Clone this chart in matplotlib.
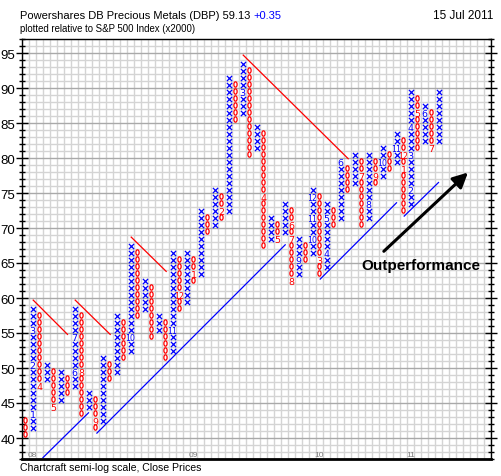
import matplotlib
matplotlib.use("Agg")
import matplotlib.pyplot as plt
from matplotlib.ticker import MultipleLocator
from matplotlib.path import Path
from matplotlib.transforms import Affine2D

# point & figure columns (box size 1), first column is O, then alternating
kinds = ["O", "X"] * 30
lows = [40, 41, 47, 48, 44, 45, 46, 47, 43, 44,
        41, 42, 48, 49, 51, 52, 57, 58, 54, 55,
        51, 52, 58, 59, 62, 63, 69, 70, 71, 72,
        85, 86, 80, 81, 67, 68, 68, 69, 62, 63,
        65, 66, 63, 64, 70, 71, 75, 76, 70, 71,
        76, 77, 78, 79, 72, 73, 81, 82, 81, 82]
highs = [42, 58, 57, 50, 49, 49, 48, 58, 57, 46,
         45, 51, 50, 57, 56, 67, 66, 62, 61, 57,
         56, 66, 65, 66, 65, 72, 71, 75, 74, 91,
         90, 93, 92, 84, 83, 71, 70, 73, 72, 68,
         67, 75, 74, 73, 72, 79, 78, 80, 79, 80,
         79, 81, 80, 83, 82, 89, 88, 87, 86, 89]

# month markers written in place of a box
month_col = [1, 1, 1, 2, 4, 7, 7, 8, 10, 15, 21, 22, 24, 28, 31, 34, 36, 38, 38, 38,
             39, 41, 41, 41, 42, 43, 43, 45, 48, 49, 50, 51, 53, 54, 54, 55, 55, 55,
             56, 57, 58]
month_val = [43, 50, 55, 47, 44, 49, 54, 49, 42, 54, 55, 60, 63, 72, 89, 74, 68, 70, 68, 62,
             65, 68, 71, 74, 65, 66, 71, 79, 77, 73, 77, 79, 81, 80, 78, 75, 80, 84,
             86, 86, 81]
month_txt = ["1", "2", "3", "4", "5", "6", "7", "8", "9", "10", "11", "12", "1", "2", "3",
             "4", "5", "6", "7", "8", "9", "10", "11", "12", "3", "4", "5", "6", "7", "8",
             "9", "10", "11", "12", "1", "2", "3", "4", "5", "6", "7"]

year_col = [1, 24, 42, 55]
year_txt = ["08", "09", "10", "11"]

# trend lines: (col0, val0, col1, val1)
red_lines = [(1.6, 59.7, 6.5, 54.8), (7.6, 59.7, 12.6, 54.8),
             (15.6, 68.7, 20.6, 63.8), (31.6, 94.7, 46.6, 79.9)]
blue_lines = [(3.0, 37.2, 9.5, 43.6), (10.7, 40.7, 37.6, 67.6),
              (42.6, 62.7, 53.5, 73.6), (54.6, 71.7, 59.5, 76.5)]

plt.rcParams["font.family"] = ["Liberation Sans", "DejaVu Sans"]

fig = plt.figure(figsize=(5.01, 4.77), dpi=100)
ax = fig.add_axes([22 / 501, 17 / 477, 469 / 501, 420 / 477])
ax.set_xlim(0, 67)
ax.set_ylim(37, 97)

ax.yaxis.set_major_locator(MultipleLocator(5))
ax.yaxis.set_minor_locator(MultipleLocator(1))
ax.xaxis.set_major_locator(MultipleLocator(1))
ax.set_xticklabels([])
ax.grid(which="minor", axis="y", color="#d4d4d4", linewidth=1)
ax.grid(which="major", axis="y", color="#a9a9a9", linewidth=1)
ax.grid(which="major", axis="x", color="#d4d4d4", linewidth=1)
ax.set_axisbelow(True)
ax.tick_params(axis="x", length=0)
ax.tick_params(axis="y", which="major", direction="inout", length=8, width=1,
               labelsize=9.5, pad=1, left=True, right=True)
ax.tick_params(axis="y", which="minor", direction="inout", length=5, width=1,
               left=True, right=True)
for s in ["left", "right", "top"]:
    ax.spines[s].set_linewidth(1)
ax.spines["bottom"].set_linewidth(2)

# split boxes into plain X, plain O and month-labelled boxes
months = {(c, v): t for c, v, t in zip(month_col, month_val, month_txt)}
xs_x, ys_x, xs_o, ys_o = [], [], [], []
for k in range(len(kinds)):
    for v in range(lows[k], highs[k] + 1):
        if (k, v) in months:
            continue
        if kinds[k] == "X":
            xs_x.append(k + 0.5)
            ys_x.append(v + 0.5)
        else:
            xs_o.append(k + 0.5)
            ys_o.append(v + 0.5)

oval = Path.unit_circle().transformed(Affine2D().scale(0.6, 1.0))
ax.scatter(xs_x, ys_x, marker="x", s=14, color="#0000ff", linewidths=0.9)
ax.scatter(xs_o, ys_o, marker=oval, s=15, facecolors="none", edgecolors="#ff0000",
           linewidths=0.9)

for c, v, t in zip(month_col, month_val, month_txt):
    color = "#0000ff" if kinds[c] == "X" else "#ff0000"
    ax.text(c + 0.5, v + 0.5, t, color=color, fontsize=5.6 if len(t) > 1 else 6.8,
            ha="center", va="center_baseline", family="DejaVu Sans")

for x0, y0, x1, y1 in red_lines:
    ax.plot([x0, x1], [y0, y1], color="#ff0000", linewidth=0.9)
for x0, y0, x1, y1 in blue_lines:
    ax.plot([x0, x1], [y0, y1], color="#0000ff", linewidth=0.9)

for c, t in zip(year_col, year_txt):
    ax.text(c + 0.5, 37.6, t, color="#808080", fontsize=6, ha="center", va="center")

ax.annotate("", xy=(64.0, 78.2), xytext=(51.4, 66.4),
            arrowprops=dict(arrowstyle="-|>,head_length=0.9,head_width=0.45",
                            color="black", lw=2.2))
ax.text(48.5, 64.7, "Outperformance", fontsize=11, fontweight="bold",
        ha="left", va="center")

t1 = fig.text(20 / 501, 1 - 16 / 477, "Powershares DB Precious Metals (DBP) 59.13 ",
              fontsize=8, va="center", ha="left")
ax.annotate("+0.35", xy=(1, 0.5), xycoords=t1, va="center", ha="left",
            fontsize=8, color="#0000ff")
fig.text(493 / 501, 1 - 16 / 477, "15 Jul 2011", fontsize=8.5, va="center", ha="right")
fig.text(20 / 501, 1 - 29 / 477, "plotted relative to S&P 500 Index (x2000)",
         fontsize=6.9, va="center", ha="left")
fig.text(20 / 501, 1 - 468 / 477, "Chartcraft semi-log scale, Close Prices",
         fontsize=7.6, va="center", ha="left")

fig.savefig("out.png", dpi=100)
